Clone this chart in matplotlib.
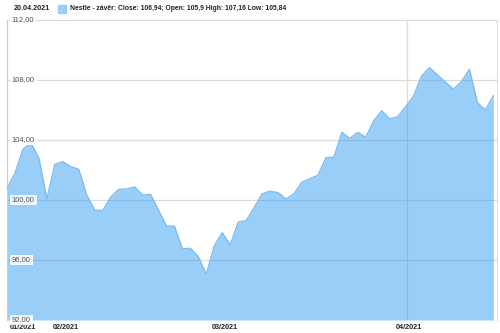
import numpy as np
import matplotlib
matplotlib.use("Agg")
import matplotlib.pyplot as plt
import matplotlib.transforms as mtransforms

# Nestle daily close, 21.01.2021 - 20.04.2021 (trading days)
close = [100.78, 101.78, 103.38, 103.82, 102.78, 100.07, 102.38, 102.55, 102.22, 102.05,
         100.33, 99.33, 99.29, 100.18, 100.71, 100.73, 100.87, 100.33, 100.38, 99.33,
         98.27, 98.25, 96.75, 96.78, 96.22, 95.05, 96.95, 97.82, 97.00, 98.53,
         98.62, 99.49, 100.42, 100.58, 100.49, 100.07, 100.42, 101.20, 101.42, 101.65,
         102.82, 102.85, 104.51, 104.11, 104.51, 104.18, 105.27, 105.95, 105.40, 105.55,
         106.22, 106.93, 108.27, 108.82, 108.33, 107.85, 107.38, 107.89, 108.71, 106.49,
         106.00, 106.94]

month_labels = ['01/2021', '02/2021', '03/2021', '04/2021']
month_start_idx = [0, 7, 27, 50]   # index of first trading day in each month

y_ticks = [92, 96, 100, 104, 108, 112]

header_date = '20.04.2021'
legend_text = 'Nestle - závěr: Close: 106,94; Open: 105,9 High: 107,16 Low: 105,84'

plt.rcParams['font.family'] = ['Liberation Sans', 'DejaVu Sans']

x = np.arange(len(close))

fig = plt.figure(figsize=(5, 3.33), dpi=100)
ax = fig.add_axes([0.014, 0.039, 0.98, 0.901])

fill_color = '#99ccf6'
ax.fill_between(x, 92, close, color='#2196f3', alpha=0.46, linewidth=0, zorder=2)
ax.plot(x, close, color='#7dbcf0', linewidth=1.0, zorder=3)

ax.set_xlim(0, len(close) - 1 + 0.46)
ax.set_ylim(92, 112)

# horizontal grid
for v in y_ticks[1:]:
    ax.axhline(v, color='#dcdcdc', linewidth=0.9, zorder=1)
# vertical grid line at April
ax.axvline(month_start_idx[3] + 0.15, color='#dcdcdc', linewidth=0.9, zorder=1)

for s in ['top', 'bottom']:
    ax.spines[s].set_visible(False)
ax.spines['left'].set_color('#cfcfcf')
ax.spines['left'].set_linewidth(0.9)
ax.spines['right'].set_color('#e2e2e2')
ax.spines['right'].set_linewidth(0.9)

# y labels inside the plot, on white boxes
ax.set_yticks([])
for v in y_ticks:
    ax.text(0.6, v, f'{v:.2f}'.replace('.', ','), fontsize=5.5, color='#555555',
            va='center', ha='left', zorder=5,
            bbox=dict(boxstyle='square,pad=0.25', facecolor='white',
                      edgecolor='none', alpha=0.85))

# x labels
ax.set_xticks(month_start_idx)
ax.set_xticklabels(month_labels, fontsize=5.2, fontweight='bold', color='#222222')
ax.tick_params(axis='x', length=0, pad=3)
labels = ax.get_xticklabels()
for i, lab in enumerate(labels):
    dx = 3 if i == 0 else 3
    lab.set_transform(lab.get_transform() +
                      mtransforms.ScaledTranslation(dx / 100, 0, fig.dpi_scale_trans))
labels[0].set_ha('left')

# header
fig.text(0.028, 0.973, header_date, fontsize=5.2, fontweight='bold',
         color='#222222', va='center', ha='left')
fig.patches.append(plt.Rectangle((0.116, 0.96), 0.016, 0.024, color=fill_color,
                                 transform=fig.transFigure, figure=fig))
fig.text(0.14, 0.973, legend_text, fontsize=4.85, fontweight='bold',
         color='#222222', va='center', ha='left')

fig.savefig('out.png', dpi=100)
